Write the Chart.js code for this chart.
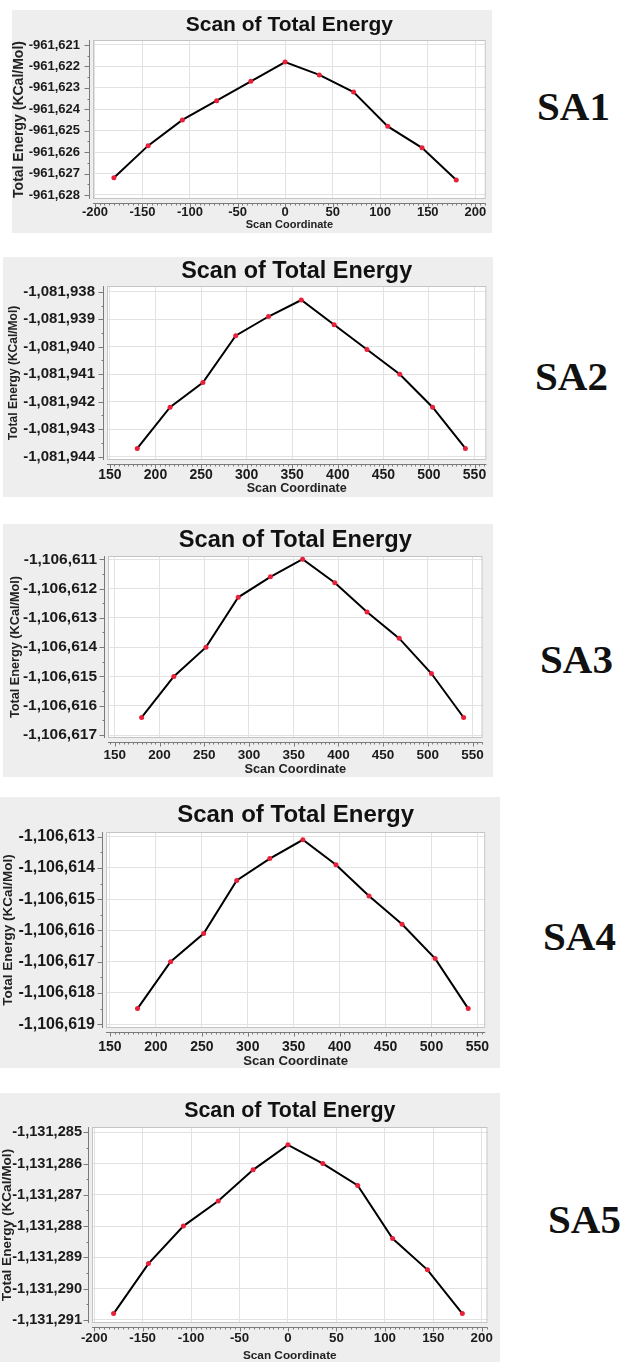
<!DOCTYPE html>
<html>
<head>
<meta charset="utf-8">
<script src="https://cdn.jsdelivr.net/npm/chart.js@4.4.1/dist/chart.umd.min.js"></script>
<style>
  html, body { margin: 0; padding: 0; background: #fff; }
  body { position: relative; width: 630px; height: 1362px; overflow: hidden; }
  .panel { position: absolute; background: #eeeeee; }
  .panel canvas { display: block; }
  .tag {
    position: absolute; font-family: "Liberation Serif", "Times New Roman", serif;
    font-weight: bold; font-size: 41px; color: #111; line-height: 1;
  }
</style>
</head>
<body>
<script>
// scan coordinates (degrees)
const scanA = [-180, -144, -108, -72, -36, 0, 36, 72, 108, 144, 180];
const scanB = [180, 216, 252, 288, 324, 360, 396, 432, 468, 504, 540];

// total energy (kcal/mol)
const energySA1 = [-961627.2, -961625.7, -961624.5, -961623.6, -961622.7, -961621.8, -961622.4, -961623.2, -961624.8, -961625.8, -961627.3];
const energySA2 = [-1081943.7, -1081942.2, -1081941.3, -1081939.6, -1081938.9, -1081938.3, -1081939.2, -1081940.1, -1081941.0, -1081942.2, -1081943.7];
const energySA3 = [-1106616.4, -1106615.0, -1106614.0, -1106612.3, -1106611.6, -1106611.0, -1106611.8, -1106612.8, -1106613.7, -1106614.9, -1106616.4];
const energySA4 = [-1106618.5, -1106617.0, -1106616.1, -1106614.4, -1106613.7, -1106613.1, -1106613.9, -1106614.9, -1106615.8, -1106616.9, -1106618.5];
const energySA5 = [-1131290.8, -1131289.2, -1131288.0, -1131287.2, -1131286.2, -1131285.4, -1131286.0, -1131286.7, -1131288.4, -1131289.4, -1131290.8];

const panelNames = ['SA1', 'SA2', 'SA3', 'SA4', 'SA5'];
const panelScan = [scanA, scanB, scanB, scanB, scanA];
const panelEnergy = [energySA1, energySA2, energySA3, energySA4, energySA5];

// axis ranges
const xMin = [-202, 146.8, 142.4, 145.7, -202.3];
const xMax = [211, 563, 561.2, 558.5, 206];
const yMin = [-961628.19, -1081944.12, -1106617.10, -1106619.12, -1131291.10];
const yMax = [-961620.77, -1081937.79, -1106610.89, -1106612.85, -1131284.83];
const xStep = 50;
const yStep = 1;

const chartTitle = 'Scan of Total Energy';
const xTitle = 'Scan Coordinate';
const yTitle = 'Total Energy (KCal/Mol)';

// layout of each panel on the page (px)
const layouts = [
  { box: [12, 10, 480, 223],  plot: [93, 40, 491, 199],    title: 21,   titleY: 25,   yTick: 13, xTick: 13, yLab: 14, xLab: 11,   yPad: 13, xLabY: 212.5, xTitleY: 224.5, yTitleX: 18, tag: [537, 90] },
  { box: [3, 257, 490, 240],  plot: [107, 286, 492, 460],  title: 23.4, titleY: 272,  yTick: 15, xTick: 14, yLab: 12, xLab: 12.6, yPad: 12, xLabY: 475,   xTitleY: 489,   yTitleX: 14, tag: [535, 360] },
  { box: [3, 524, 490, 253],  plot: [108, 556, 492, 738],  title: 23.6, titleY: 540,  yTick: 15.5, xTick: 13.5, yLab: 12.7, xLab: 12.8, yPad: 11, xLabY: 755, xTitleY: 769, yTitleX: 15, tag: [540, 643] },
  { box: [0, 797, 500, 271],  plot: [106, 832, 493, 1028], title: 24,   titleY: 815,  yTick: 16, xTick: 14, yLab: 13.5, xLab: 13.2, yPad: 11, xLabY: 1047,  xTitleY: 1061,  yTitleX: 8,  tag: [543, 920] },
  { box: [0, 1093, 500, 269], plot: [92, 1127, 497, 1323], title: 21.4, titleY: 1111, yTick: 14.6, xTick: 13.3, yLab: 13.6, xLab: 11.8, yPad: 10, xLabY: 1338, xTitleY: 1355.5, yTitleX: 5, tag: [548, 1203] }
];

const FONT = '"Liberation Sans", Arial, sans-serif';

// white plot area, outline, offset axis lines with major / minor tick marks
const framePlugin = {
  id: 'frame',
  beforeDraw(chart) {
    const { ctx, chartArea: a } = chart;
    ctx.save();
    ctx.fillStyle = '#ffffff';
    ctx.fillRect(a.left, a.top, a.width, a.height);
    ctx.restore();
  },
  beforeDatasetsDraw(chart) {
    const { ctx, chartArea: a, scales } = chart;
    ctx.save();
    ctx.strokeStyle = '#c4c4c4';
    ctx.lineWidth = 1;
    ctx.strokeRect(a.left + 0.5, a.top + 0.5, a.width - 1, a.height - 1);

    const gap = 4;
    ctx.strokeStyle = '#7a7a7a';
    // y axis
    const ys = scales.y;
    const ax = Math.round(a.left - gap) + 0.5;
    ctx.beginPath();
    ctx.moveTo(ax, a.top);
    ctx.lineTo(ax, a.bottom);
    const yMinor = yStep / 2;
    for (let v = Math.ceil(ys.min / yMinor) * yMinor; v <= ys.max; v += yMinor) {
      const py = Math.round(ys.getPixelForValue(v)) + 0.5;
      const major = Math.abs(v / yStep - Math.round(v / yStep)) < 1e-6;
      ctx.moveTo(ax, py);
      ctx.lineTo(ax - (major ? 5 : 2), py);
    }
    ctx.stroke();
    // x axis
    const xs = scales.x;
    const ay = Math.round(a.bottom + gap) + 0.5;
    ctx.beginPath();
    ctx.moveTo(a.left, ay);
    ctx.lineTo(a.right, ay);
    const xMinor = xStep / 10;
    for (let v = Math.ceil(xs.min / xMinor) * xMinor; v <= xs.max; v += xMinor) {
      const px = Math.round(xs.getPixelForValue(v)) + 0.5;
      const major = Math.abs(v / xStep - Math.round(v / xStep)) < 1e-6;
      ctx.moveTo(px, ay);
      ctx.lineTo(px, ay + (major ? 4 : 2));
    }
    ctx.stroke();
    ctx.restore();
  }
};

function crearPanel(i) {
  const L = layouts[i];
  const [bx, by, bw, bh] = L.box;
  const [pl, pt, pr, pb] = L.plot;

  const div = document.createElement('div');
  div.className = 'panel';
  div.style.left = bx + 'px';
  div.style.top = by + 'px';
  div.style.width = bw + 'px';
  div.style.height = bh + 'px';
  const canvas = document.createElement('canvas');
  canvas.width = bw;
  canvas.height = bh;
  div.appendChild(canvas);
  document.body.appendChild(div);

  const tag = document.createElement('div');
  tag.className = 'tag';
  tag.textContent = panelNames[i];
  tag.style.left = L.tag[0] + 'px';
  tag.style.top = (L.tag[1] - 4) + 'px';
  document.body.appendChild(tag);

  const titleLh = L.title * 1.2;
  const titlePadTop = (L.titleY - by) - titleLh / 2;
  const titlePadBottom = (pt - by) - titlePadTop - titleLh;

  const xTickLh = L.xTick * 1.2;
  const xLabLh = L.xLab * 1.2;
  const yLabLh = L.yLab;

  const points = panelScan[i].map((x, k) => ({ x: x, y: panelEnergy[i][k] }));

  return new Chart(canvas, {
    type: 'line',
    data: {
      datasets: [{
        data: points,
        borderColor: '#000000',
        borderWidth: 2,
        pointRadius: 2.5,
        pointBackgroundColor: '#e8203a',
        pointBorderWidth: 0,
        tension: 0
      }]
    },
    options: {
      responsive: false,
      animation: false,
      devicePixelRatio: 1,
      layout: { padding: { left: 0, top: 0, bottom: 0, right: (bx + bw) - pr } },
      plugins: {
        legend: { display: false },
        tooltip: { enabled: false },
        title: {
          display: true,
          fullSize: false,
          text: chartTitle,
          color: '#111',
          font: { family: FONT, size: L.title, weight: 'bold' },
          padding: { top: titlePadTop, bottom: titlePadBottom }
        }
      },
      scales: {
        x: {
          type: 'linear',
          min: xMin[i],
          max: xMax[i],
          afterFit: s => { s.height = (by + bh) - pb; },
          ticks: {
            stepSize: xStep,
            includeBounds: false,
            autoSkip: false,
            maxRotation: 0,
            color: '#1a1a1a',
            font: { family: FONT, size: L.xTick, weight: 'bold' },
            padding: (L.xLabY - pb) - xTickLh / 2
          },
          grid: { color: '#e2e2e2', drawTicks: false },
          border: { display: false },
          title: {
            display: true,
            text: xTitle,
            color: '#222',
            font: { family: FONT, size: L.xLab, weight: 'bold' },
            padding: { top: 0, bottom: (by + bh) - L.xTitleY - xLabLh / 2 }
          }
        },
        y: {
          type: 'linear',
          min: yMin[i],
          max: yMax[i],
          afterFit: s => { s.width = pl - bx; },
          ticks: {
            stepSize: yStep,
            includeBounds: false,
            color: '#1a1a1a',
            font: { family: FONT, size: L.yTick, weight: 'bold' },
            padding: L.yPad,
            callback: v => Number(v).toLocaleString('en-US')
          },
          grid: { color: '#e2e2e2', drawTicks: false },
          border: { display: false },
          title: {
            display: true,
            text: yTitle,
            color: '#222',
            font: { family: FONT, size: L.yLab, weight: 'bold', lineHeight: 1 },
            padding: { top: Math.max(0, (L.yTitleX - bx) - yLabLh / 2), bottom: 0 }
          }
        }
      }
    },
    plugins: [framePlugin]
  });
}

panelNames.forEach((_, i) => crearPanel(i));
</script>
</body>
</html>
